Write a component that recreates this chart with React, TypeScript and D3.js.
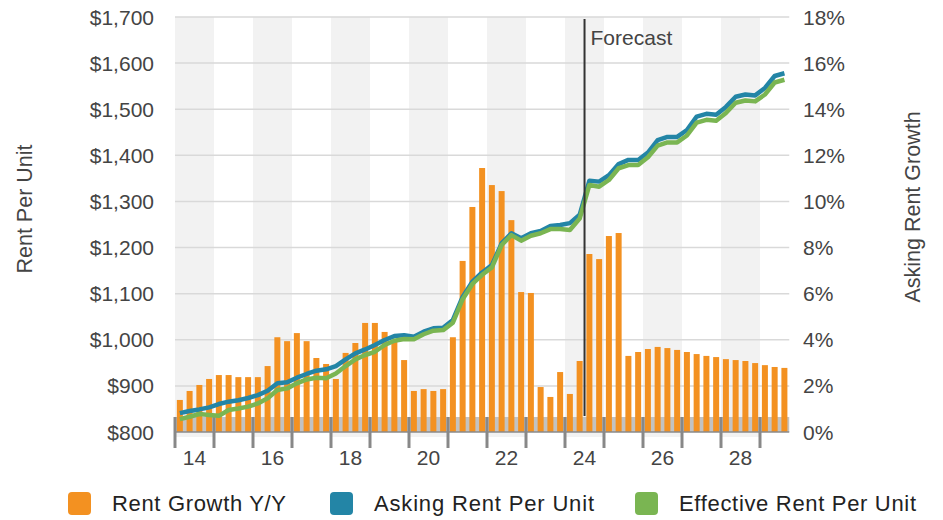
import React from "react";
import * as d3 from "d3";

const rentGrowth: number[] = [
  1.39, 1.78, 2.04, 2.3,
  2.47, 2.47, 2.38, 2.38,
  2.38, 2.86, 4.11, 3.94,
  4.29, 3.94, 3.21, 2.95,
  2.3, 3.43, 3.86, 4.73,
  4.73, 4.34, 3.94, 3.12,
  1.78, 1.86, 1.78, 1.86,
  4.11, 7.42, 9.76, 11.45,
  10.71, 10.45, 9.19, 6.07,
  6.03, 1.95, 1.52, 2.6,
  1.65, 3.08, 7.72, 7.5,
  8.5, 8.63, 3.3, 3.47,
  3.6, 3.69, 3.64, 3.56,
  3.47, 3.38, 3.3, 3.25,
  3.16, 3.12, 3.08, 2.99,
  2.9, 2.82, 2.78,
];

const askingRent: number[] = [
  841, 845.5, 849, 853.5,
  860.7, 865.8, 869, 873.7,
  880, 889.6, 905.6, 907.7,
  917.8, 925.8, 933, 936,
  943, 957.6, 970.6, 979,
  988.7, 999.5, 1008, 1010,
  1006.7, 1017.6, 1025, 1026,
  1043, 1093, 1126, 1146,
  1162, 1209, 1231, 1220,
  1231, 1236, 1247, 1249,
  1253, 1271, 1345, 1343,
  1357, 1381, 1390, 1390,
  1406, 1433, 1440, 1440,
  1455, 1484, 1490, 1488,
  1505, 1527, 1532, 1530,
  1546, 1572, 1578,
];

const effectiveRent: number[] = [
  828, 833, 839, 837,
  835, 847.7, 851, 855,
  862, 873, 891, 894.6,
  905.6, 914, 917.8, 916.5,
  927, 943, 957.6, 967,
  974, 988.7, 998, 1001.7,
  1001, 1012, 1019.8, 1021,
  1037, 1088, 1121, 1141,
  1157, 1205.5, 1227, 1215,
  1225.7, 1231, 1240, 1240,
  1238, 1263, 1335.7, 1332,
  1346.5, 1372, 1379, 1379,
  1395.7, 1421, 1428, 1428,
  1443, 1471, 1477, 1475,
  1492, 1514, 1519, 1517,
  1532, 1558, 1564,
];

const startYear = 2014;
const quarters: string[] = rentGrowth.map(
  (_, i) => `${startYear + Math.floor(i / 4)}Q${(i % 4) + 1}`
);
const years: number[] = d3.range(2014, 2030);
const yearLabels: number[] = [2014, 2016, 2018, 2020, 2022, 2024, 2026, 2028];
const leftTicks: number[] = d3.range(800, 1701, 100);
const rightTicks: number[] = d3.range(0, 19, 2);
const forecastStart = "2024Q3";

const legendItems = [
  { label: "Rent Growth Y/Y", color: "#F39121" },
  { label: "Asking Rent Per Unit", color: "#2385A6" },
  { label: "Effective Rent Per Unit", color: "#7AB552" },
];

const FONT = "'Liberation Sans', Arial, Helvetica, sans-serif";

export default function App() {
  const W = 943;
  const H = 520;
  const x0 = 175;
  const yearW = 39;
  const x1 = x0 + yearW * (rentGrowth.length / 4);
  const yTop = 17;
  const yBot = 432;

  const xBand = d3
    .scaleBand<string>()
    .domain(quarters)
    .range([x0, x1])
    .paddingInner(0.385)
    .paddingOuter(0.19);
  const xYear = d3.scaleLinear().domain([2014, 2014 + rentGrowth.length / 4]).range([x0, x1]);
  const yLeft = d3.scaleLinear().domain([800, 1700]).range([yBot, yTop]);
  const yRight = d3.scaleLinear().domain([0, 18]).range([yBot, yTop]);

  const step = xBand.step();
  const cx = (i: number) => x0 + step * i + step / 2;

  const lineGen = d3
    .line<number>()
    .x((_, i) => cx(i))
    .y((d) => yLeft(d));

  const fx = x0 + step * quarters.indexOf(forecastStart);

  const legendX = [68, 330, 635];
  const legendTextW = [174, 220, 237];

  return (
    <svg
      width={W}
      height={H}
      style={{ position: "absolute", left: 0, top: 0, fontFamily: FONT }}
    >
      {years
        .filter((y) => y % 2 === 0)
        .map((y) => (
          <rect
            key={"s" + y}
            x={xYear(y)}
            y={yTop}
            width={Math.min(xYear(y + 1), x1) - xYear(y)}
            height={437 - yTop}
            fill="#f2f2f2"
          />
        ))}
      {leftTicks.slice(1).map((t) => (
        <line
          key={"g" + t}
          x1={x0}
          x2={x1}
          y1={yLeft(t)}
          y2={yLeft(t)}
          stroke="#d9d9d9"
          strokeWidth={1.5}
        />
      ))}
      <rect x={x0} y={417} width={x1 - x0} height={yBot - 417} fill="#c2c2c2" />
      {rentGrowth.map((v, i) => (
        <rect
          key={"b" + i}
          x={xBand(quarters[i])}
          y={yRight(v)}
          width={xBand.bandwidth()}
          height={yRight(0) - yRight(v)}
          fill="#F39121"
        />
      ))}
      <line x1={x0} x2={x1} y1={yBot} y2={yBot} stroke="#8a8a8a" strokeWidth={1.5} />
      {years.map((y) => (
        <line
          key={"t" + y}
          x1={xYear(y)}
          x2={xYear(y)}
          y1={417}
          y2={448}
          stroke="#888"
          strokeWidth={3}
        />
      ))}
      <path
        d={lineGen(askingRent) || ""}
        fill="none"
        stroke="#2385A6"
        strokeWidth={4.5}
        strokeLinejoin="round"
      />
      <path
        d={lineGen(effectiveRent) || ""}
        fill="none"
        stroke="#7AB552"
        strokeWidth={4.5}
        strokeLinejoin="round"
      />
      <line x1={fx} x2={fx} y1={19} y2={416} stroke="#333" strokeWidth={2} />
      <text x={fx + 6} y={45} fontSize={21} fill="#444">
        Forecast
      </text>
      {leftTicks.map((t) => (
        <text
          key={"l" + t}
          x={154}
          y={yLeft(t)}
          dy="0.36em"
          textAnchor="end"
          fontSize={21}
          fill="#444"
        >
          {d3.format("$,")(t)}
        </text>
      ))}
      {rightTicks.map((t) => (
        <text
          key={"r" + t}
          x={803}
          y={yRight(t)}
          dy="0.36em"
          textAnchor="start"
          fontSize={21}
          fill="#444"
        >
          {t + "%"}
        </text>
      ))}
      {yearLabels.map((y) => (
        <text
          key={"x" + y}
          x={xYear(y + 0.5)}
          y={465}
          textAnchor="middle"
          fontSize={21}
          fill="#444"
        >
          {String(y).slice(2)}
        </text>
      ))}
      <text
        transform={`translate(32,209) rotate(-90)`}
        textAnchor="middle"
        fontSize={21.5}
        fill="#444"
      >
        Rent Per Unit
      </text>
      <text
        transform={`translate(920,207) rotate(-90)`}
        textAnchor="middle"
        fontSize={21.5}
        fill="#444"
      >
        Asking Rent Growth
      </text>
      {legendItems.map((it, i) => (
        <g key={"lg" + i}>
          <rect
            x={legendX[i]}
            y={492}
            width={23}
            height={23}
            rx={4}
            fill={it.color}
          />
          <text
            x={legendX[i] + 44}
            y={511}
            fontSize={22}
            fill="#222"
            textLength={legendTextW[i]}
            lengthAdjust="spacing"
          >
            {it.label}
          </text>
        </g>
      ))}
    </svg>
  );
}
